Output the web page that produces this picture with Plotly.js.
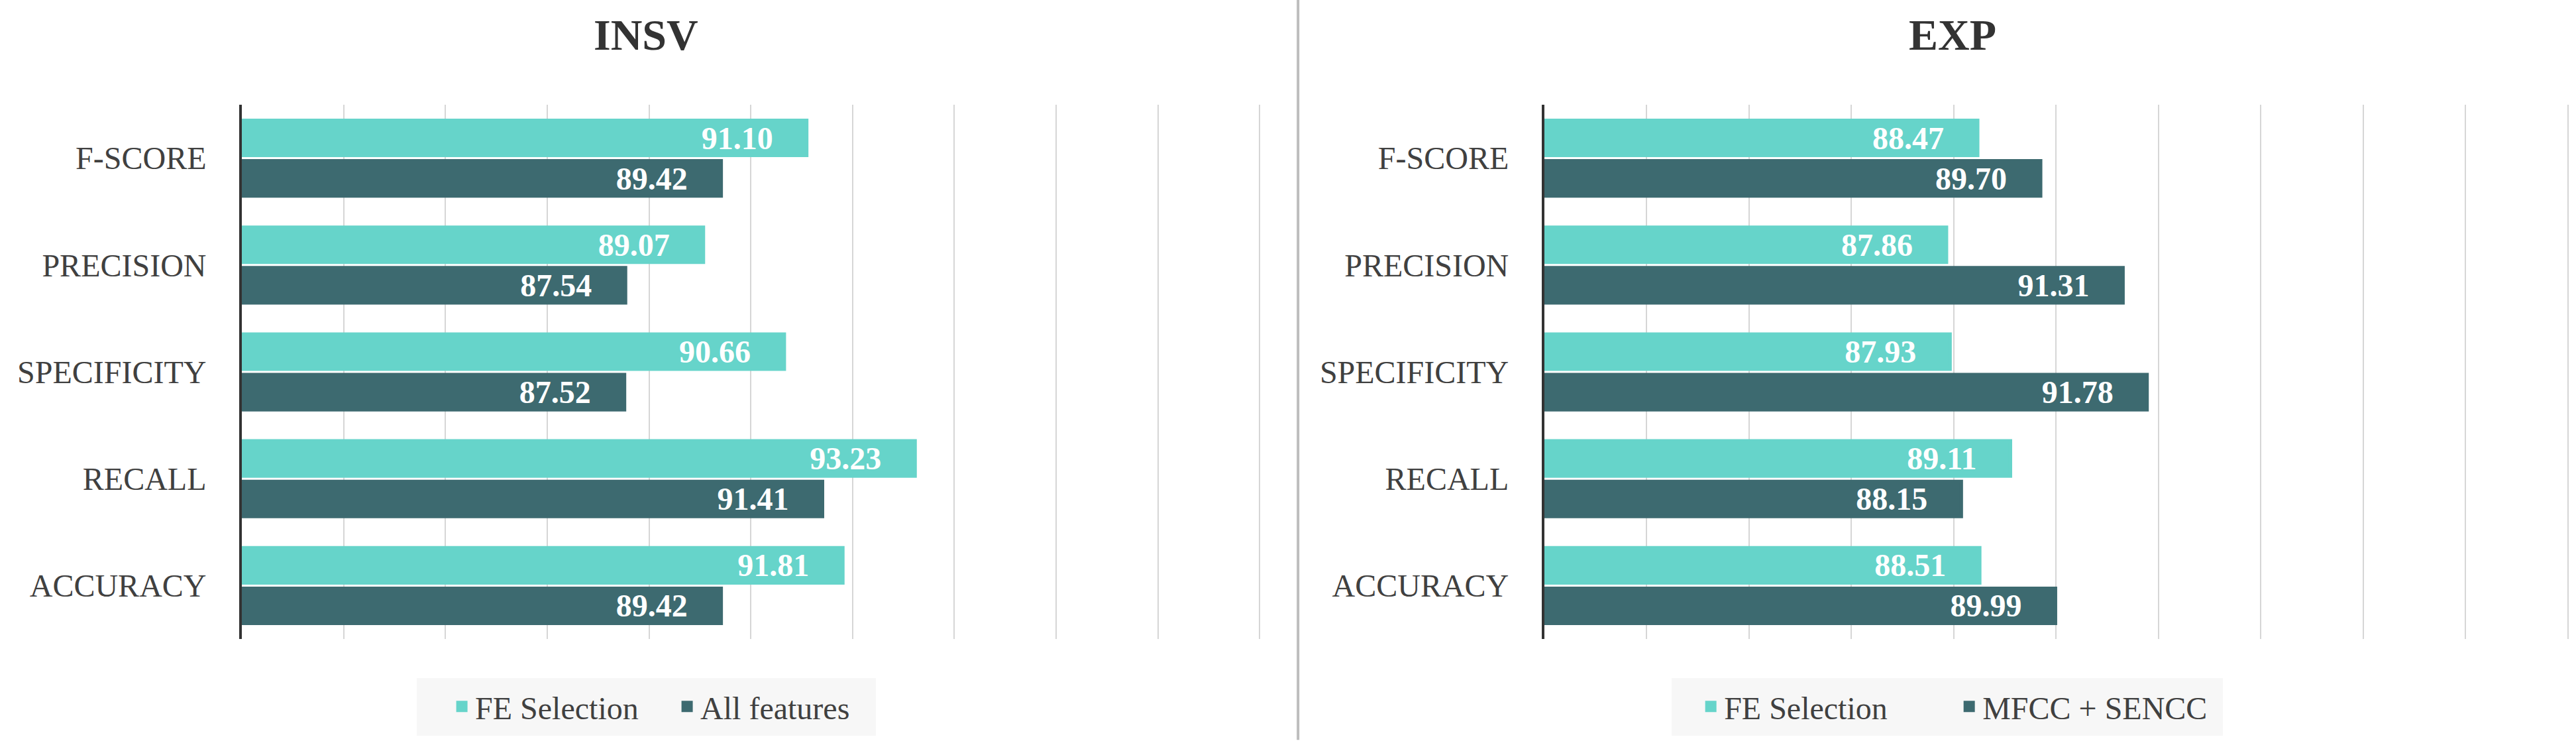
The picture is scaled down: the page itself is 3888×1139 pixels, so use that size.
<html>
<head>
<script src="https://cdn.plot.ly/plotly-3.0.1.min.js"></script>
<style>
  body { margin: 0; background: #fff; }
  #chart { width: 3888px; height: 1139px; }
</style>
</head>
<body>
<div id="chart"></div>
<script>
// metric names, top to bottom
const metrics = ["F-SCORE", "PRECISION", "SPECIFICITY", "RECALL", "ACCURACY"];

// INSV panel
const insvFE = [91.10, 89.07, 90.66, 93.23, 91.81];
const insvAll = [89.42, 87.54, 87.52, 91.41, 89.42];

// EXP panel
const expFE = [88.47, 87.86, 87.93, 89.11, 88.51];
const expMfcc = [89.70, 91.31, 91.78, 88.15, 89.99];

const lightColor = "#66D4CA";
const darkColor = "#3D6A70";
const serif = "Liberation Serif, Times New Roman, serif";
// trailing gap inside the bar end (zero-width char stops trimming)
const pad = "\u00a0\u00a0\u00a0\u00a0\u200b";

function barTrace(vals, name, color, xa, ya, legend) {
  return {
    type: "bar",
    orientation: "h",
    y: metrics,
    x: vals,
    name: name,
    xaxis: xa,
    yaxis: ya,
    legend: legend,
    marker: { color: color, line: { color: color, width: 5 } },
    texttemplate: "%{x:.2f}" + pad,
    textposition: "inside",
    insidetextanchor: "end",
    constraintext: "none",
    textfont: { family: serif, size: 48, color: "#ffffff", weight: "bold" },
    hoverinfo: "x+y+name"
  };
}

const traces = [
  barTrace(insvFE, "FE Selection", lightColor, "x", "y", "legend"),
  barTrace(insvAll, "All features", darkColor, "x", "y", "legend"),
  barTrace(expFE, "FE Selection", lightColor, "x2", "y2", "legend2"),
  barTrace(expMfcc, "MFCC + SENCC", darkColor, "x2", "y2", "legend2")
];

const xAxisBase = {
  range: [80, 100.06],
  dtick: 2,
  tick0: 80,
  showticklabels: false,
  showgrid: true,
  gridcolor: "#d6d6d6",
  gridwidth: 2,
  zeroline: false,
  showline: false,
  fixedrange: true
};

const yAxisBase = {
  type: "category",
  autorange: "reversed",
  showline: true,
  linecolor: "#333333",
  linewidth: 4,
  ticks: "",
  ticklabelstandoff: 40,
  tickfont: { family: serif, size: 48, color: "#404040" },
  showgrid: false,
  zeroline: false,
  domain: [0.1536, 0.8613]
};

const legendBase = {
  orientation: "h",
  xanchor: "center",
  yanchor: "middle",
  y: 0.064,
  bgcolor: "rgba(0,0,0,0)",
  entrywidthmode: "pixels",
  font: { family: serif, size: 48, color: "#404040" },
  traceorder: "normal"
};

const layout = {
  width: 3888,
  height: 1139,
  margin: { l: 0, r: 0, t: 0, b: 0 },
  paper_bgcolor: "#ffffff",
  plot_bgcolor: "#ffffff",
  barmode: "group",
  bargap: 0.242,
  bargroupgap: 0.13,
  xaxis: Object.assign({}, xAxisBase, { domain: [0.0939, 0.4902], anchor: "y" }),
  yaxis: Object.assign({}, yAxisBase, { anchor: "x" }),
  xaxis2: Object.assign({}, xAxisBase, { domain: [0.5995, 0.998], anchor: "y2" }),
  yaxis2: Object.assign({}, yAxisBase, { anchor: "x2" }),
  legend: Object.assign({}, legendBase, { x: 0.2616, entrywidth: 295 }),
  legend2: Object.assign({}, legendBase, { x: 0.7593, entrywidth: 345 }),
  annotations: [
    { text: "INSV", x: 0.2508, y: 0.9535, xref: "paper", yref: "paper", showarrow: false,
      xanchor: "center", yanchor: "middle",
      font: { family: serif, size: 66, color: "#333333", weight: "bold" } },
    { text: "EXP", x: 0.758, y: 0.9535, xref: "paper", yref: "paper", showarrow: false,
      xanchor: "center", yanchor: "middle",
      font: { family: serif, size: 66, color: "#333333", weight: "bold" } }
  ],
  shapes: [
    { type: "line", xref: "paper", yref: "paper", x0: 0.5039, x1: 0.5039, y0: 0.02, y1: 1,
      line: { color: "#bdbdbd", width: 4 } },
    // legend background boxes
    { type: "rect", xref: "paper", yref: "paper", x0: 0.1618, x1: 0.34, y0: 0.0255, y1: 0.1018,
      fillcolor: "#f7f7f7", line: { width: 0 }, layer: "below" },
    { type: "rect", xref: "paper", yref: "paper", x0: 0.6489, x1: 0.8629, y0: 0.0255, y1: 0.1018,
      fillcolor: "#f7f7f7", line: { width: 0 }, layer: "below" }
  ]
};

Plotly.newPlot("chart", traces, layout, { staticPlot: true });
</script>
</body>
</html>
